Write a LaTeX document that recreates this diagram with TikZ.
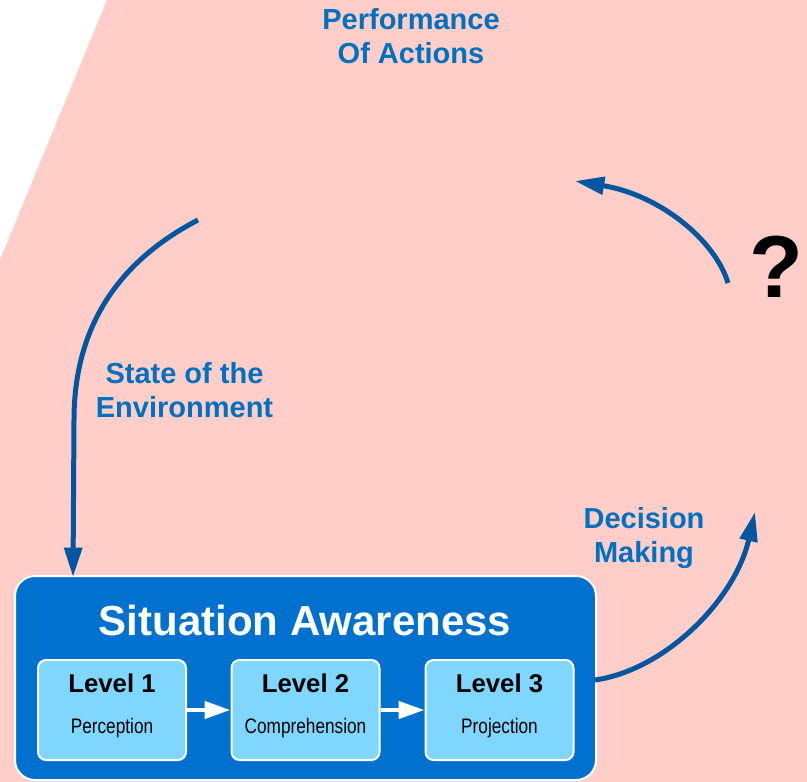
\documentclass[tikz,border=0pt]{standalone}
\usepackage{fontspec}
\setmainfont{Liberation Sans}
\newfontfamily\narrowfont[FakeStretch=0.82]{Liberation Sans}
\usetikzlibrary{arrows.meta,positioning}
\definecolor{bgpink}{HTML}{FFCEC8}
\definecolor{sablue}{HTML}{0071CE}
\definecolor{levelcyan}{HTML}{7FD6FF}
\definecolor{arrowblue}{HTML}{00579F}
\definecolor{textblue}{HTML}{0070C0}

\begin{document}
\begin{tikzpicture}[x=0.75pt,y=-0.75pt,
    sabox/.style={
% The shape:
rectangle, rounded corners=15pt,
% The size:
minimum width=435.75pt, minimum height=153pt,
% The border:
draw=white, line width=1.5pt, fill=sablue,
},
    levelbox/.style={
% The shape:
rectangle, rounded corners=6pt,
% The size:
minimum width=111pt, minimum height=75pt,
% The border:
draw=white, line width=1.5pt, fill=levelcyan,
% The text:
align=center, text depth=10pt, font=\fontsize{19.3}{30.75}\selectfont\bfseries,
},
    satitle/.style={
% The text:
text=white, inner sep=0pt, font=\fontsize{31.5}{36}\selectfont\bfseries,
},
    caption/.style={
% The text:
text=textblue, align=center, inner sep=0pt,
font=\fontsize{21.75}{25.5}\selectfont\bfseries,
},
    flow/.style={
-{Triangle[length=22pt,width=13pt]}, line width=3.75pt, draw=arrowblue,
},
    levelflow/.style={
-{Triangle[length=19.5pt,width=12.75pt]}, line width=3.4pt, draw=white,
},
]
  \useasboundingbox (0,0) rectangle (807,782);
  \fill [bgpink] (107,0) -- (0,260) -- (0,782) -- (807,782) -- (807,0) -- cycle;

  \node[sabox]                          (SA) at (305.5, 678) {};
  \node[satitle, anchor=base]           (title) at (305, 635) {Situation Awareness};
  \node[levelbox]                       (L1) at (112, 710)
    {Level 1\\{\narrowfont\mdseries\fontsize{15.75}{30.75}\selectfont Perception}};
  \node[levelbox]                       (L2) at (305.5, 710)
    {Level 2\\{\narrowfont\mdseries\fontsize{15.75}{30.75}\selectfont Comprehension}};
  \node[levelbox]                       (L3) at (499.5, 710)
    {Level 3\\{\narrowfont\mdseries\fontsize{15.75}{30.75}\selectfont Projection}};

  \node[caption, anchor=north]          (perf) at (411, 8) {Performance\\Of Actions};
  \node[caption, anchor=north]          (env) at (184.5, 362) {State of the\\Environment};
  \node[caption, anchor=north]          (dec) at (644, 507) {Decision\\Making};
  \node[font=\fontsize{66}{66}\selectfont\bfseries, anchor=base, inner sep=0pt]
    (qmark) at (776.5, 297) {?};

  \coordinate (envstart) at (198, 220);
  \coordinate (decend) at (755, 512);
  \coordinate (perfstart) at (728, 283);
  \coordinate (perfend) at (575, 181);

  \draw [levelflow] (L1) -- (L2);
  \draw [levelflow] (L2) -- (L3);
  \draw [flow] (envstart) .. controls (125,258) and (74,320) .. (74,420)
    -- ([shift={(59,2)}]SA.north west);
  \draw [flow] ([shift={(-2,2)}]SA.east) .. controls (665,670) and (735,600) .. (decend);
  \draw [flow] (perfstart) .. controls (715,240) and (660,195) .. (perfend);

\end{tikzpicture}
\end{document}
